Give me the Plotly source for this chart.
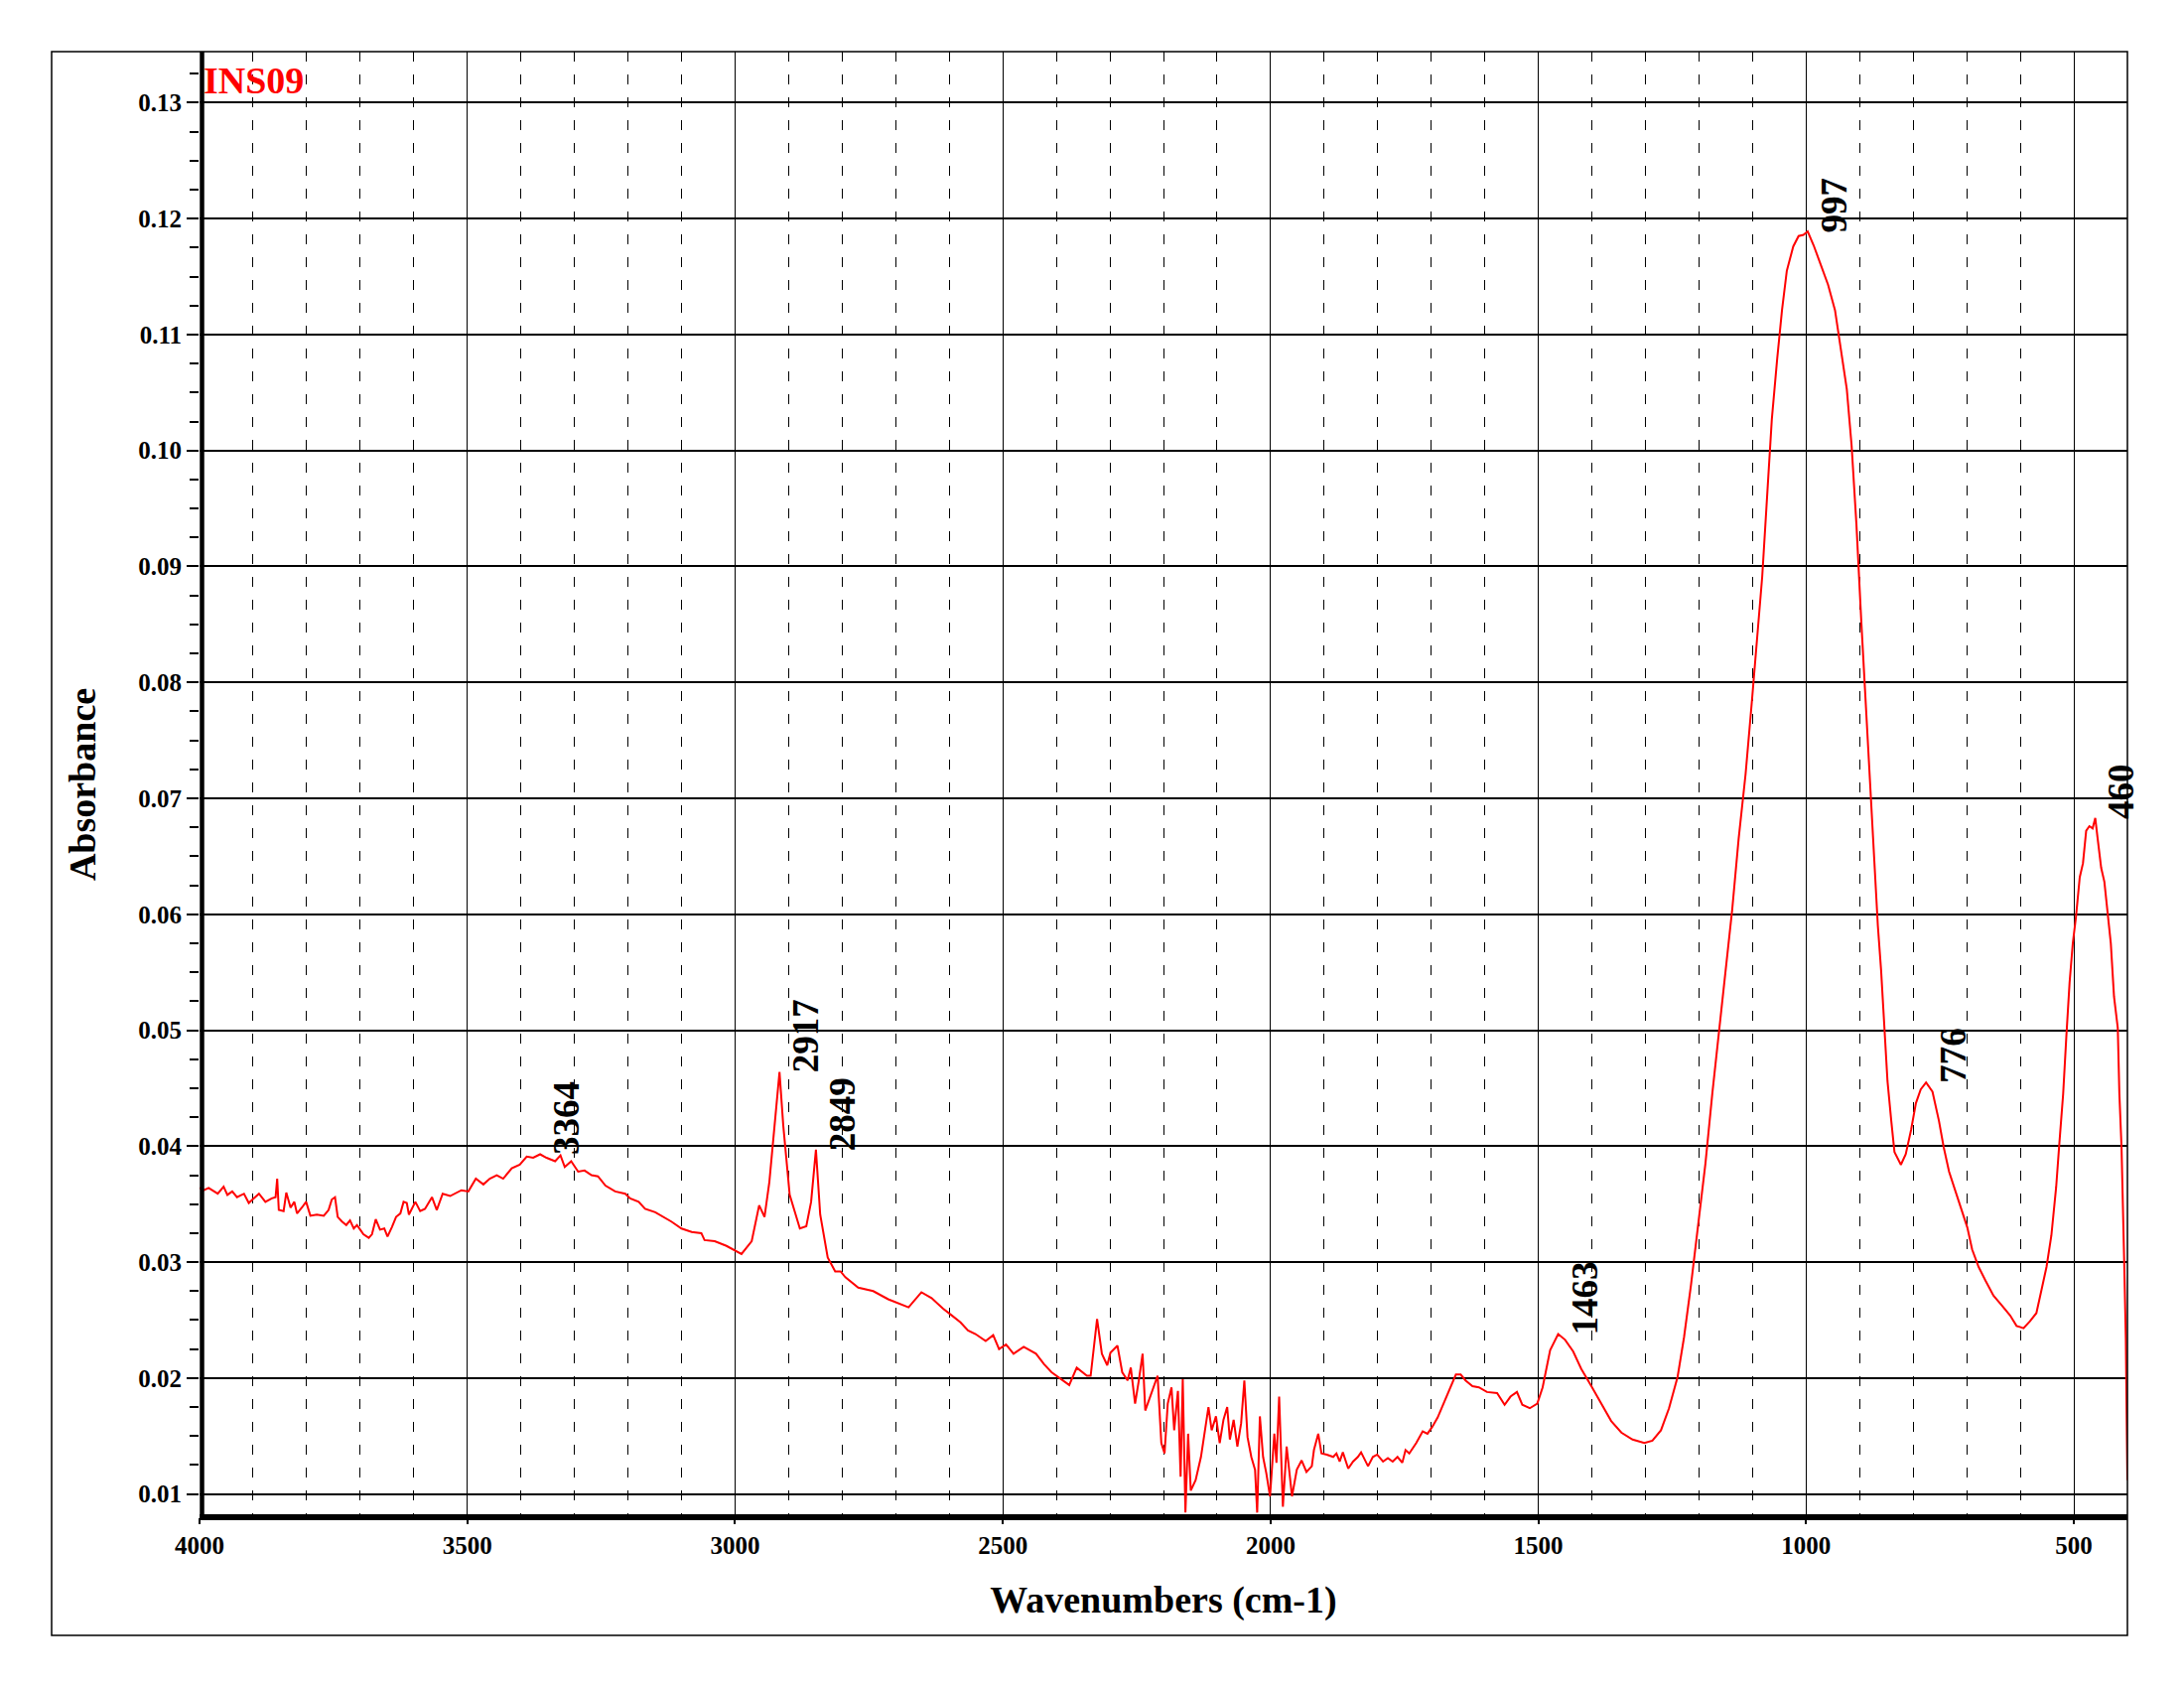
import plotly.graph_objects as go

# ---------------- data ----------------
# region 1: 4000 - 3242 cm-1
wn_r1 = [4000, 3992, 3983, 3973, 3966, 3955, 3948, 3939, 3930, 3917, 3908, 3901, 3889, 3877,
         3865, 3858, 3855, 3852, 3843, 3838, 3830, 3823, 3818, 3809, 3801, 3793, 3781, 3768,
         3759, 3753, 3747, 3742, 3734, 3726, 3719, 3712, 3706, 3700, 3694, 3684, 3678, 3671,
         3663, 3655, 3649, 3641, 3633, 3625, 3619, 3613, 3609, 3597, 3588, 3579, 3566, 3557,
         3546, 3532, 3523, 3511, 3498, 3484, 3470, 3458, 3445, 3433, 3417, 3402, 3389, 3377,
         3364, 3352, 3336, 3326, 3318, 3306, 3293, 3281, 3268, 3256, 3242]
ab_r1 = [0.0364, 0.0362, 0.0364, 0.0361, 0.0359, 0.0365, 0.0358, 0.0361, 0.0356, 0.0359, 0.0351, 0.0354, 0.0359, 0.0352,
         0.0355, 0.0356, 0.0372, 0.0345, 0.0344, 0.0360, 0.0347, 0.0352, 0.0342, 0.0347, 0.0352, 0.0340, 0.0341, 0.0340,
         0.0345, 0.0354, 0.0356, 0.0339, 0.0335, 0.0332, 0.0336, 0.0329, 0.0332, 0.0328, 0.0324, 0.0321, 0.0324, 0.0337,
         0.0328, 0.0329, 0.0322, 0.0330, 0.0339, 0.0342, 0.0352, 0.0351, 0.0341, 0.0352, 0.0344, 0.0346, 0.0356, 0.0345,
         0.0359, 0.0357, 0.0359, 0.0362, 0.0361, 0.0372, 0.0367, 0.0372, 0.0375, 0.0372, 0.0381, 0.0384, 0.0391, 0.0390,
         0.0393, 0.0390, 0.0387, 0.0392, 0.0382, 0.0387, 0.0378, 0.0379, 0.0375, 0.0374, 0.0366]

# region 2: 3224 - 2612 cm-1
wn_r2 = [3224, 3205, 3196, 3180, 3168, 3149, 3134, 3119, 3100, 3081, 3063, 3057, 3038, 3016,
         2988, 2969, 2955, 2945, 2936, 2926, 2917, 2910, 2898, 2879, 2867, 2858, 2849, 2841,
         2827, 2813, 2803, 2794, 2770, 2742, 2714, 2676, 2652, 2633, 2612]
ab_r2 = [0.0361, 0.0359, 0.0355, 0.0352, 0.0346, 0.0343, 0.0339, 0.0335, 0.0329, 0.0326, 0.0325, 0.0319, 0.0318, 0.0314,
         0.0307, 0.0318, 0.0349, 0.0339, 0.0369, 0.0418, 0.0464, 0.0418, 0.0358, 0.0329, 0.0331, 0.0352, 0.0397, 0.0341,
         0.0304, 0.0292, 0.0292, 0.0287, 0.0278, 0.0275, 0.0268, 0.0261, 0.0274, 0.0269, 0.0260]

# region 3: 2598 - 1960 cm-1 (noisy CO2 / diamond region)
wn_r3 = [2598, 2579, 2565, 2551, 2532, 2518, 2507, 2494, 2480, 2461, 2438, 2423, 2409, 2390,
         2376, 2362, 2343, 2336, 2324, 2315, 2305, 2299, 2286, 2277, 2267, 2261, 2253, 2246,
         2239, 2234, 2225, 2211, 2204, 2198, 2192, 2185, 2180, 2173, 2168, 2164, 2159, 2154,
         2149, 2140, 2130, 2123, 2116, 2110, 2102, 2095, 2088, 2081, 2076, 2069, 2062, 2055,
         2049, 2043, 2036, 2029, 2025, 2020, 2014, 2008, 2001, 1993, 1989, 1984, 1977, 1970,
         1960]
ab_r3 = [0.0255, 0.0248, 0.0241, 0.0238, 0.0232, 0.0237, 0.0225, 0.0229, 0.0221, 0.0227, 0.0221, 0.0212, 0.0205, 0.0199,
         0.0194, 0.0209, 0.0202, 0.0202, 0.0251, 0.0221, 0.0211, 0.0222, 0.0228, 0.0205, 0.0198, 0.0209, 0.0178, 0.0198,
         0.0221, 0.0172, 0.0184, 0.0202, 0.0144, 0.0135, 0.0178, 0.0192, 0.0155, 0.0189, 0.0115, 0.0199, 0.0084, 0.0152,
         0.0103, 0.0112, 0.0132, 0.0152, 0.0175, 0.0155, 0.0167, 0.0144, 0.0164, 0.0175, 0.0147, 0.0164, 0.0141, 0.0161,
         0.0198, 0.0149, 0.0132, 0.0121, 0.0084, 0.0167, 0.0132, 0.0118, 0.0098, 0.0152, 0.0127, 0.0184, 0.0089, 0.0141,
         0.0098]

# region 4: 1951 - 1596 cm-1
wn_r4 = [1951, 1942, 1933, 1923, 1919, 1911, 1905, 1895, 1883, 1877, 1871, 1865, 1855, 1846,
         1837, 1831, 1818, 1809, 1801, 1790, 1781, 1772, 1763, 1754, 1748, 1741, 1728, 1716,
         1707, 1698, 1688, 1676, 1664, 1654, 1645, 1636, 1623, 1611, 1596]
ab_r4 = [0.0121, 0.0129, 0.0119, 0.0124, 0.0138, 0.0152, 0.0135, 0.0134, 0.0132, 0.0135, 0.0128, 0.0136, 0.0122, 0.0128,
         0.0132, 0.0136, 0.0124, 0.0132, 0.0134, 0.0128, 0.0131, 0.0128, 0.0132, 0.0127, 0.0138, 0.0135, 0.0144, 0.0154,
         0.0152, 0.0158, 0.0166, 0.0179, 0.0193, 0.0203, 0.0203, 0.0198, 0.0193, 0.0192, 0.0188]

# region 5: 1577 - 400 cm-1
wn_r5 = [1577, 1563, 1552, 1540, 1530, 1516, 1502, 1492, 1478, 1463, 1450, 1435, 1420, 1401,
         1383, 1364, 1345, 1324, 1302, 1287, 1271, 1256, 1240, 1228, 1215, 1200, 1188, 1175,
         1163, 1150, 1138, 1126, 1113, 1101, 1092, 1082, 1073, 1064, 1054, 1045, 1036, 1024,
         1014, 1005, 997, 986, 974, 959, 946, 934, 924, 915, 906, 897, 887, 878,
         872, 866, 860, 854, 848, 841, 835, 823, 814, 804, 795, 786, 776, 764,
         752, 743, 733, 721, 709, 699, 690, 678, 665, 650, 635, 619, 607, 594,
         582, 570, 560, 551, 542, 533, 527, 520, 514, 508, 502, 496, 489, 483,
         477, 471, 465, 460, 456, 449, 443, 437, 431, 425, 418, 415, 411, 406,
         403, 401, 400]
ab_r5 = [0.0187, 0.0177, 0.0184, 0.0188, 0.0177, 0.0174, 0.0178, 0.0192, 0.0224, 0.0238, 0.0233, 0.0223, 0.0208, 0.0193,
         0.0178, 0.0163, 0.0153, 0.0147, 0.0144, 0.0146, 0.0155, 0.0174, 0.0201, 0.0235, 0.0280, 0.0336, 0.0385, 0.0446,
         0.0499, 0.0555, 0.0604, 0.0665, 0.0721, 0.0785, 0.0838, 0.0891, 0.0959, 0.1027, 0.1079, 0.1121, 0.1155, 0.1176,
         0.1185, 0.1186, 0.1189, 0.1177, 0.1162, 0.1143, 0.1121, 0.1083, 0.1053, 0.1004, 0.0936, 0.0853, 0.0765, 0.0685,
         0.0636, 0.0590, 0.0552, 0.0502, 0.0456, 0.0422, 0.0395, 0.0384, 0.0393, 0.0414, 0.0437, 0.0449, 0.0455, 0.0447,
         0.0422, 0.0399, 0.0378, 0.0361, 0.0345, 0.0330, 0.0311, 0.0296, 0.0284, 0.0271, 0.0263, 0.0254, 0.0245, 0.0243,
         0.0249, 0.0256, 0.0277, 0.0296, 0.0323, 0.0365, 0.0403, 0.0445, 0.0495, 0.0541, 0.0575, 0.0598, 0.0632, 0.0644,
         0.0672, 0.0676, 0.0674, 0.0683, 0.0667, 0.0640, 0.0628, 0.0602, 0.0575, 0.0529, 0.0502, 0.0445, 0.0399, 0.0300,
         0.0235, 0.0150, 0.0112]

peak_wavenumbers = [3364, 2917, 2849, 1463, 997, 776, 460]
peak_absorbance = [0.0393, 0.0464, 0.0397, 0.0238, 0.1189, 0.0455, 0.0683]

x_tick_values = [4000, 3500, 3000, 2500, 2000, 1500, 1000, 500]
sample_name = "INS09"

for a, b in [(wn_r1, ab_r1), (wn_r2, ab_r2), (wn_r3, ab_r3), (wn_r4, ab_r4), (wn_r5, ab_r5)]:
    assert len(a) == len(b), (len(a), len(b))

wavenumber = wn_r1 + wn_r2 + wn_r3 + wn_r4 + wn_r5
absorbance = ab_r1 + ab_r2 + ab_r3 + ab_r4 + ab_r5

# ---------------- figure ----------------
W, H = 2200, 1700
ML, MR, MT, MB = 201, 57, 52, 172
PW, PH = W - ML - MR, H - MT - MB

SERIF = "Liberation Serif, Times New Roman, serif"

fig = go.Figure()
fig.add_trace(go.Scatter(
    x=wavenumber, y=absorbance, mode="lines",
    line=dict(color="#ff0000", width=2),
    showlegend=False, hoverinfo="skip",
))

for pw, pa in zip(peak_wavenumbers, peak_absorbance):
    fig.add_annotation(
        x=pw, y=pa, xref="x", yref="y", text=str(pw), showarrow=False,
        textangle=-90, xanchor="left", yanchor="bottom", xshift=4, yshift=-3,
        font=dict(family=SERIF, size=37, color="black", weight="bold"),
    )

fig.add_annotation(
    x=0.001, y=(H - MB - 58) / PH, xref="paper", yref="paper", text=sample_name,
    showarrow=False, xanchor="left", yanchor="top",
    font=dict(family=SERIF, size=38, color="#ff0000", weight="bold"),
)

# outer frame
fig.add_shape(
    type="rect", xref="paper", yref="paper",
    x0=(52 - ML) / PW, x1=1.0, y0=(H - MB - 1647) / PH, y1=1.0,
    line=dict(color="black", width=1.5), fillcolor="rgba(0,0,0,0)", layer="above",
)
# thick axis lines (drawn just inside the plotting area as in the reference)
fig.add_shape(type="line", xref="paper", yref="paper",
              x0=2.5 / PW, x1=2.5 / PW, y0=-3 / PH, y1=1.0,
              line=dict(color="black", width=4.5), layer="above")
fig.add_shape(type="line", xref="paper", yref="paper",
              x0=0, x1=1.0, y0=0, y1=0,
              line=dict(color="black", width=6), layer="above")

fig.update_layout(
    width=W, height=H,
    margin=dict(l=ML, r=MR, t=MT, b=MB, pad=0),
    paper_bgcolor="white", plot_bgcolor="white",
    font=dict(family=SERIF, color="black"),
    xaxis=dict(
        range=[4000, 400], tickmode="array", tickvals=x_tick_values,
        ticks="outside", ticklen=6, tickwidth=2, tickcolor="black",
        showline=False, showgrid=True, gridcolor="black", gridwidth=1,
        zeroline=False,
        tickfont=dict(family=SERIF, size=25, color="black", weight="bold"),
        minor=dict(tickmode="linear", tick0=0, dtick=100, showgrid=True,
                   gridcolor="black", gridwidth=1, griddash="10px,13px", ticks=""),
        title=dict(text="Wavenumbers (cm-1)", standoff=28,
                   font=dict(family=SERIF, size=38, color="black", weight="bold")),
    ),
    yaxis=dict(
        range=[0.008, 0.1344], tickmode="linear", tick0=0, dtick=0.01, tickformat=".2f",
        ticks="outside", ticklen=12, tickwidth=2, tickcolor="black",
        showline=False, showgrid=True, gridcolor="black", gridwidth=1.5,
        zeroline=False,
        tickfont=dict(family=SERIF, size=25, color="black", weight="bold"),
        minor=dict(tickmode="linear", tick0=0, dtick=0.0025, ticks="outside",
                   ticklen=9, tickwidth=2, tickcolor="black", showgrid=False),
        title=dict(text="Absorbance", standoff=30,
                   font=dict(family=SERIF, size=38, color="black", weight="bold")),
    ),
)

fig.write_html("out.html")
